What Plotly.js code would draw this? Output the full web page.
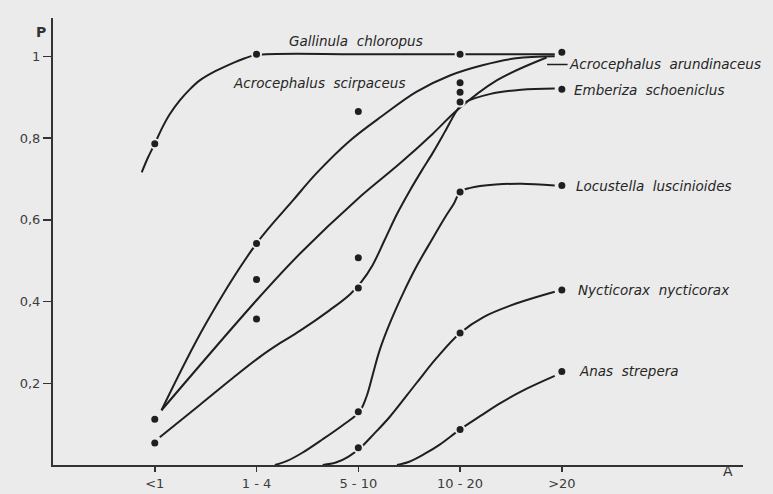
<!DOCTYPE html>
<html>
<head>
<meta charset="utf-8">
<script src="https://cdn.plot.ly/plotly-3.0.1.min.js"></script>
<style>html,body{margin:0;padding:0;background:#ebebeb;}</style>
</head>
<body>
<div id="chart" style="width:773px;height:494px;"></div>
<script>
// ---- data (x = index of area class, y = P) ----
const categories = ['<1', '1 - 4', '5 - 10', '10 - 20', '>20'];
const yTickVals = [0.2, 0.4, 0.6, 0.8, 1];
const yTickText = ['0,2', '0,4', '0,6', '0,8', '1'];

const gallinulaX = [-0.128, -0.069, 0, 0.069, 0.147, 0.246, 0.344, 0.442, 0.59, 0.737, 0.885, 1.0, 2.0, 3.0, 3.93];
const gallinulaY = [0.716, 0.751, 0.786, 0.823, 0.858, 0.892, 0.919, 0.941, 0.963, 0.98, 0.995, 1.003, 1.005, 1.005, 1.005];

const scirpaceusX = [0.066, 0.5, 1.0, 1.36, 1.59, 1.92, 2.24, 2.57, 2.9, 3.22, 3.55, 3.93];
const scirpaceusY = [0.134, 0.345, 0.542, 0.648, 0.714, 0.794, 0.855, 0.913, 0.953, 0.978, 0.995, 1.0];

const arundinaceusX = [0.066, 1.0, 1.43, 1.98, 2.41, 2.73, 2.97, 3.36, 3.85];
const arundinaceusY = [0.134, 0.403, 0.518, 0.648, 0.738, 0.81, 0.868, 0.941, 0.997];

const emberizaX = [0.049, 0.442, 0.767, 1.03, 1.23, 1.425, 1.72, 1.92, 2.03, 2.14, 2.26, 2.38, 2.51, 2.62, 2.73, 2.85, 2.97, 3.03, 3.3, 3.6, 3.93];
const emberizaY = [0.068, 0.147, 0.213, 0.264, 0.298, 0.328, 0.379, 0.418, 0.448, 0.489, 0.551, 0.614, 0.673, 0.719, 0.763, 0.815, 0.868, 0.885, 0.908, 0.918, 0.921];

const locustellaX = [1.18, 1.3, 1.45, 1.65, 1.85, 2.01, 2.08, 2.145, 2.21, 2.31, 2.44, 2.57, 2.72, 2.85, 2.94, 3.0, 3.1, 3.35, 3.6, 3.93];
const locustellaY = [0.0, 0.01, 0.03, 0.063, 0.098, 0.13, 0.167, 0.224, 0.281, 0.347, 0.42, 0.485, 0.55, 0.605, 0.64, 0.668, 0.678, 0.686, 0.688, 0.684];

const nycticoraxX = [1.65, 1.78, 1.9, 2.02, 2.15, 2.31, 2.57, 2.77, 3.0, 3.23, 3.55, 3.93];
const nycticoraxY = [0.0, 0.006, 0.02, 0.042, 0.075, 0.118, 0.2, 0.262, 0.323, 0.362, 0.395, 0.424];

const anasX = [2.38, 2.5, 2.65, 2.8, 3.0, 3.2, 3.4, 3.65, 3.93];
const anasY = [0.0, 0.008, 0.027, 0.05, 0.087, 0.12, 0.152, 0.186, 0.218];

const dotsX = [0, 0, 0, 1, 1, 1, 1, 2, 2, 2, 2, 2, 3, 3, 3, 3, 3, 3, 3, 4, 4, 4, 4, 4];
const dotsY = [0.786, 0.112, 0.054,
               1.005, 0.542, 0.454, 0.357,
               0.865, 0.507, 0.433, 0.13, 0.042,
               1.005, 0.935, 0.912, 0.888, 0.668, 0.323, 0.087,
               1.01, 0.919, 0.684, 0.428, 0.229];

const speciesNames = ['Gallinula\u00a0\u00a0chloropus', 'Acrocephalus\u00a0\u00a0scirpaceus',
  'Acrocephalus\u00a0\u00a0arundinaceus', 'Emberiza\u00a0\u00a0schoeniclus',
  'Locustella\u00a0\u00a0luscinioides', 'Nycticorax\u00a0\u00a0nycticorax', 'Anas\u00a0\u00a0strepera'];

// ---- drawing ----
const ink = '#1f1f1f';
const bg = '#ebebeb';
function curve(x, y) {
  return {x: x, y: y, type: 'scatter', mode: 'lines', hoverinfo: 'skip',
          line: {color: ink, width: 2, shape: 'spline', smoothing: 1}, showlegend: false};
}
const traces = [
  curve(gallinulaX, gallinulaY),
  curve(scirpaceusX, scirpaceusY),
  curve(arundinaceusX, arundinaceusY),
  curve(emberizaX, emberizaY),
  curve(locustellaX, locustellaY),
  curve(nycticoraxX, nycticoraxY),
  curve(anasX, anasY),
  {x: dotsX, y: dotsY, type: 'scatter', mode: 'markers', showlegend: false,
   marker: {color: ink, size: 9, line: {color: bg, width: 2}}}
];

const labFont = {family: 'DejaVu Sans', size: 13.5, color: '#262626', style: 'italic'};
function lab(text, x, y) {
  return {text: text, x: x, y: y, xref: 'x', yref: 'y', xanchor: 'left', yanchor: 'middle',
          showarrow: false, font: labFont};
}
const annotations = [
  lab(speciesNames[0], 1.3, 1.037),
  lab(speciesNames[1], 0.75, 0.934),
  {text: speciesNames[2], x: 3.855, y: 0.98, xref: 'x', yref: 'y', showarrow: true,
   arrowhead: 0, arrowwidth: 1.5, arrowcolor: ink, ax: 118, ay: 0, standoff: 0, font: labFont},
  lab(speciesNames[3], 4.1, 0.917),
  lab(speciesNames[4], 4.12, 0.682),
  lab(speciesNames[5], 4.14, 0.427),
  lab(speciesNames[6], 4.15, 0.229),
  {text: 'P', x: -0.027, y: 0.99, xref: 'paper', yref: 'paper', showarrow: false,
   font: {family: 'DejaVu Sans', size: 14, color: '#333', weight: 'bold'}},
  {text: 'A', x: 0.988, y: -0.036, xref: 'paper', yref: 'paper', showarrow: false,
   font: {family: 'DejaVu Sans', size: 14, color: '#333'}}
];

const tickFont = {family: 'DejaVu Sans', size: 13, color: '#3c3c3c'};
const layout = {
  width: 773, height: 494,
  margin: {l: 53, r: 30, t: 18, b: 29},
  paper_bgcolor: bg, plot_bgcolor: bg,
  showlegend: false,
  xaxis: {range: [-1.0, 5.78], tickmode: 'array', tickvals: [0, 1, 2, 3, 4], ticktext: categories,
          ticks: 'outside', ticklen: 5, tickwidth: 1.5, tickcolor: '#333',
          showline: true, linecolor: '#333', linewidth: 2, showgrid: false, zeroline: false,
          tickfont: tickFont, fixedrange: true},
  yaxis: {range: [0, 1.0936], tickmode: 'array', tickvals: yTickVals, ticktext: yTickText,
          ticks: 'outside', ticklen: 8, tickwidth: 1.5, tickcolor: '#333',
          showline: true, linecolor: '#333', linewidth: 2, showgrid: false, zeroline: false,
          tickfont: tickFont, fixedrange: true},
  annotations: annotations
};
Plotly.newPlot('chart', traces, layout, {staticPlot: true, displayModeBar: false});
</script>
</body>
</html>
